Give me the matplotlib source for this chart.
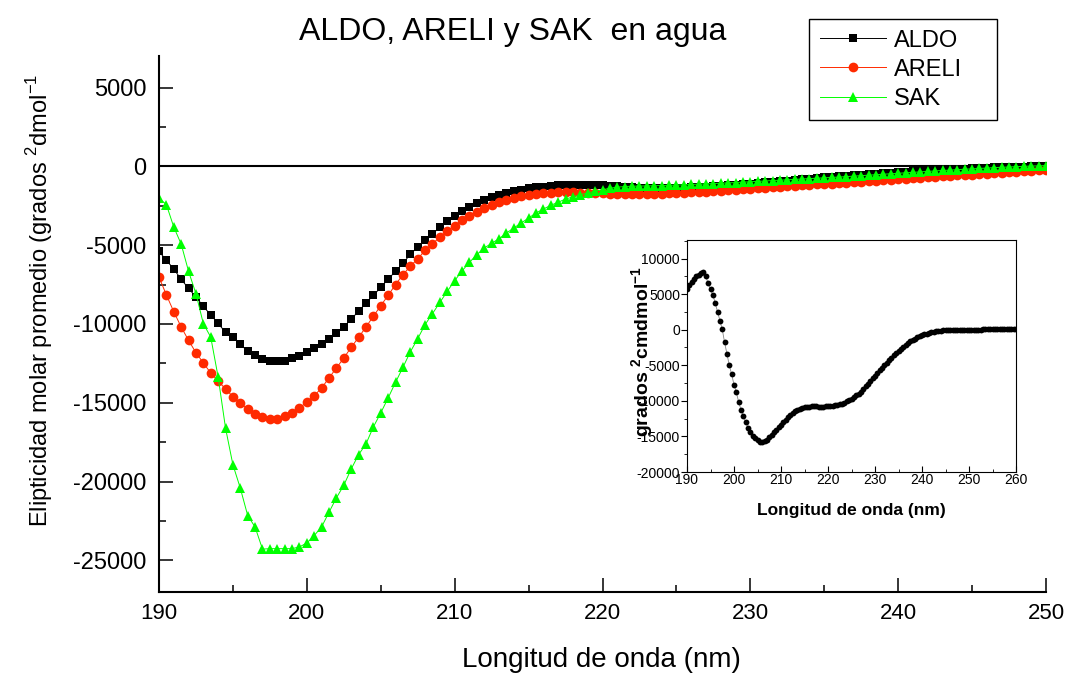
import numpy as np
import matplotlib
matplotlib.use('Agg')
import matplotlib.pyplot as plt
from matplotlib.ticker import MultipleLocator

plt.rcParams['font.family'] = ['Liberation Sans', 'DejaVu Sans']
plt.rcParams['mathtext.fontset'] = 'custom'
plt.rcParams['mathtext.rm'] = 'Liberation Sans'
plt.rcParams['mathtext.bf'] = 'Liberation Sans:bold'
plt.rcParams['axes.unicode_minus'] = False

# Main spectra, 190-250 nm every 0.5 nm
wavelength = np.arange(190, 250.5, 0.5)
aldo = [-5390, -5960, -6510, -7170, -7740, -8290, -8880, -9430, -9960, -10530,
        -10850, -11270, -11740, -11950, -12200, -12330, -12370, -12330, -12160, -12000,
        -11760, -11530, -11270, -10950, -10570, -10190, -9680, -9200, -8670, -8180,
        -7680, -7150, -6660, -6150, -5580, -5120, -4690, -4290, -3850, -3480,
        -3150, -2850, -2580, -2340, -2130, -1950, -1800, -1670, -1560, -1470,
        -1390, -1330, -1280, -1240, -1210, -1190, -1170, -1160, -1160, -1170,
        -1190, -1220, -1260, -1300, -1340, -1370, -1380, -1390, -1390, -1380,
        -1370, -1350, -1330, -1310, -1290, -1260, -1230, -1200, -1170, -1140,
        -1100, -1060, -1020, -980, -940, -900, -860, -820, -780, -740,
        -700, -660, -620, -590, -550, -520, -490, -460, -430, -400,
        -370, -340, -310, -290, -260, -240, -210, -190, -170, -150,
        -130, -110, -90, -70, -60, -40, -30, -10, 0, 10,
        20]
areli = [-7020, -8160, -9220, -10190, -11040, -11820, -12470, -13110, -13620, -14120,
         -14610, -15040, -15390, -15710, -15900, -16010, -16030, -15860, -15640, -15330,
         -14950, -14540, -14060, -13420, -12790, -12160, -11480, -10850, -10190, -9510,
         -8840, -8180, -7500, -6870, -6340, -5860, -5330, -4900, -4500, -4100,
         -3760, -3400, -3130, -2900, -2640, -2430, -2280, -2110, -2010, -1900,
         -1840, -1760, -1700, -1660, -1640, -1630, -1640, -1660, -1680, -1700,
         -1720, -1740, -1750, -1760, -1760, -1760, -1750, -1740, -1730, -1710,
         -1690, -1670, -1650, -1620, -1600, -1570, -1540, -1510, -1480, -1450,
         -1420, -1390, -1360, -1330, -1300, -1270, -1240, -1210, -1180, -1150,
         -1120, -1090, -1060, -1030, -1000, -970, -940, -910, -880, -850,
         -820, -790, -760, -730, -700, -670, -640, -610, -580, -550,
         -520, -490, -460, -430, -400, -370, -340, -310, -280, -250,
         -220]
sak = [-2010, -2430, -3850, -4930, -6660, -8080, -9980, -10830, -13360, -16600,
       -18930, -20410, -22150, -22880, -24280, -24250, -24250, -24250, -24250, -24140,
       -23890, -23420, -22870, -21940, -21030, -20230, -19200, -18290, -17610, -16530,
       -15640, -14690, -13700, -12750, -11770, -10930, -10040, -9340, -8630, -7930,
       -7250, -6630, -6090, -5600, -5180, -4880, -4590, -4230, -3910, -3590,
       -3280, -2960, -2710, -2470, -2280, -2070, -1940, -1800, -1690, -1580,
       -1480, -1390, -1320, -1280, -1260, -1250, -1240, -1230, -1220, -1200,
       -1190, -1170, -1150, -1130, -1110, -1090, -1070, -1050, -1030, -1000,
       -980, -950, -930, -900, -880, -850, -830, -800, -780, -750,
       -730, -700, -680, -650, -620, -590, -560, -530, -500, -470,
       -440, -410, -380, -350, -320, -290, -260, -240, -210, -180,
       -160, -130, -110, -80, -60, -40, -20, 0, 20, 30,
       50]

# Inset spectrum, 190-260 nm every 0.5 nm
inset_wavelength = np.arange(190, 260.5, 0.5)
inset_signal = [5780, 6240, 6710, 7140, 7510, 7750, 7980, 8100, 7500, 6500,
                5700, 4900, 3750, 2500, 1250, 50, -1800, -3380, -5000, -6290,
                -7720, -8800, -10190, -11260, -12160, -13000, -13800, -14410, -14880, -15260,
                -15540, -15730, -15820, -15680, -15450, -15120, -14750, -14420, -14080, -13730,
                -13380, -13000, -12630, -12290, -11970, -11700, -11460, -11280, -11130, -11000,
                -10900, -10840, -10800, -10790, -10790, -10790, -10800, -10800, -10800, -10790,
                -10760, -10730, -10690, -10630, -10560, -10480, -10380, -10250, -10090, -9920,
                -9720, -9500, -9250, -8980, -8690, -8350, -7980, -7600, -7230, -6850,
                -6480, -6100, -5730, -5350, -4980, -4620, -4270, -3940, -3620, -3290,
                -2960, -2670, -2390, -2130, -1880, -1660, -1460, -1260, -1080, -930,
                -800, -670, -560, -460, -380, -300, -230, -180, -140, -110,
                -90, -70, -50, -40, -30, -20, -10, 0, 0, 10,
                10, 10, 20, 20, 20, 20, 30, 30, 30, 30,
                30, 40, 40, 40, 40, 40, 50, 50, 50, 50,
                50]

W, H = 1069, 677
fig = plt.figure(figsize=(W / 100, H / 100), dpi=100)
ax = fig.add_axes([159 / W, 85 / H, 887 / W, 536 / H])

ax.axhline(0, color='black', lw=1.5, zorder=1)
ax.plot(wavelength, aldo, color='black', lw=0.7, marker='s', ms=5.8, mew=0, label='ALDO')
ax.plot(wavelength, areli, color='#ff2a00', lw=0.7, marker='o', ms=7.0, mew=0, label='ARELI')
ax.plot(wavelength, sak, color='#00ff00', lw=0.7, marker='^', ms=7.8, mew=0, label='SAK')

ax.set_xlim(190, 250)
ax.set_ylim(-27000, 7000)
ax.spines['top'].set_visible(False)
ax.spines['right'].set_visible(False)
for s in ['left', 'bottom']:
    ax.spines[s].set_linewidth(1.5)
ax.xaxis.set_major_locator(MultipleLocator(10))
ax.xaxis.set_minor_locator(MultipleLocator(5))
ax.yaxis.set_major_locator(MultipleLocator(5000))
ax.yaxis.set_minor_locator(MultipleLocator(2500))
ax.tick_params(which='both', direction='in', width=1.1)
ax.tick_params(which='major', length=10)
ax.tick_params(which='minor', length=5)
ax.tick_params(axis='x', labelsize=16, pad=8)
ax.tick_params(axis='y', labelsize=17, pad=9)

leg = ax.legend(loc='upper left', bbox_to_anchor=(809 / W, 1 - 123 / H, 188 / W, 104 / H),
                bbox_transform=fig.transFigure, mode='expand', fontsize=17,
                fancybox=False, edgecolor='black', framealpha=1, borderaxespad=0,
                borderpad=0.45, handlelength=2.8, handletextpad=0.35, labelspacing=0.3)
leg.get_frame().set_linewidth(1.0)

fig.text(513 / W, 1 - 32 / H, 'ALDO, ARELI y SAK  en agua', ha='center', va='center', fontsize=23)
fig.text(601 / W, 1 - 660 / H, 'Longitud de onda (nm)', ha='center', va='center', fontsize=20)
fig.text(40 / W, 1 - 300 / H, 'Elipticidad molar promedio (grados $^{2}$dmol$^{-1}$',
         ha='center', va='center', rotation=90, fontsize=17)

# Inset
ax_in = fig.add_axes([687 / W, (H - 472) / H, 329 / W, 232 / H])
ax_in.plot(inset_wavelength, inset_signal, color='#888888', lw=0.6, marker='o', ms=4.2,
           mfc='black', mec='black', mew=0)
ax_in.set_xlim(190, 260)
ax_in.set_ylim(-20000, 12600)
ax_in.xaxis.set_major_locator(MultipleLocator(10))
ax_in.xaxis.set_minor_locator(MultipleLocator(5))
ax_in.yaxis.set_major_locator(MultipleLocator(5000))
ax_in.yaxis.set_minor_locator(MultipleLocator(2500))
ax_in.tick_params(axis='y', which='both', direction='out', labelsize=10, pad=1)
ax_in.tick_params(axis='y', which='major', length=4)
ax_in.tick_params(axis='y', which='minor', length=2)
ax_in.tick_params(axis='x', which='both', direction='in', labelsize=10, pad=1)
ax_in.tick_params(axis='x', which='major', length=4)
ax_in.tick_params(axis='x', which='minor', length=2)
fig.text(851 / W, 1 - 510 / H, 'Longitud de onda (nm)', ha='center', va='center',
         fontsize=12.5, fontweight='bold')
fig.text(643 / W, 1 - 352 / H, r'grados $^{\mathbf{2}}$cmdmol$^{\mathbf{-1}}$', ha='center',
         va='center', rotation=90, fontsize=14, fontweight='bold')

fig.savefig('out.png', dpi=100)
